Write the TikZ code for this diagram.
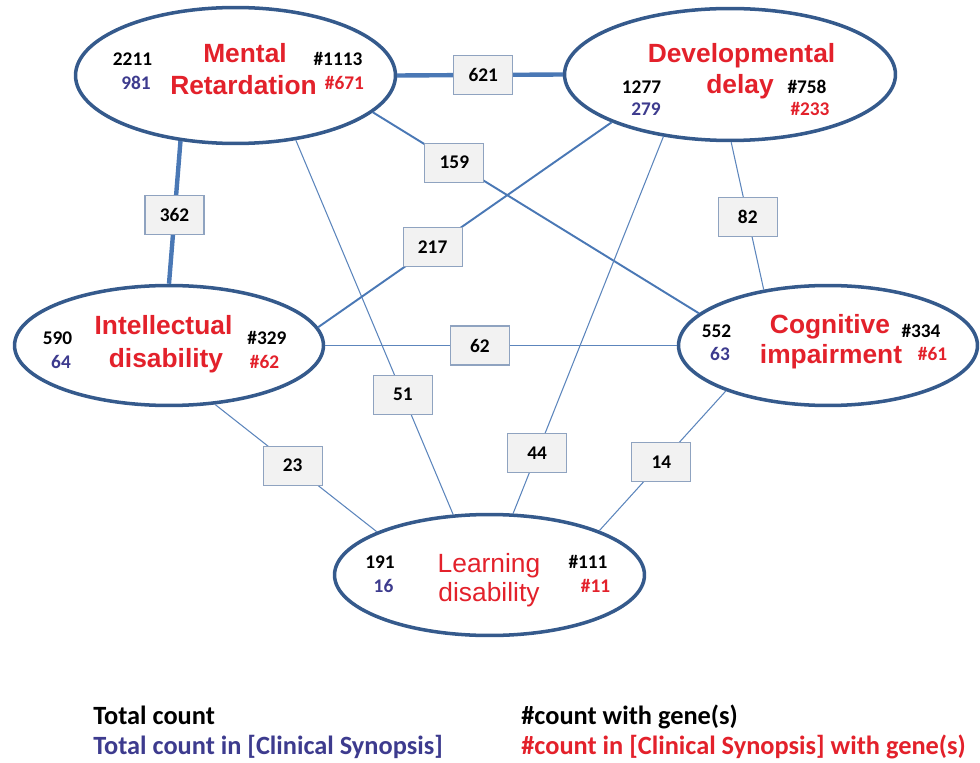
\documentclass[tikz,border=0pt]{standalone}
\usepackage{fontspec}
\setmainfont{Liberation Sans}
\newfontfamily\calibfont{Carlito}
\usepackage{tikz}
\usetikzlibrary{shapes.geometric}
\usepackage{xcolor}
\definecolor{ovalblue}{HTML}{355A8C}
\definecolor{linkblue}{HTML}{4A78B5}
\definecolor{boxedge}{HTML}{8FA3C0}
\definecolor{boxfill}{HTML}{F2F2F2}
\definecolor{namered}{HTML}{E3212B}
\definecolor{synblue}{HTML}{3D3B8E}

\begin{document}
\begin{tikzpicture}[
  x=0.02cm, y=-0.02cm,
  disease/.style={ellipse, draw=ovalblue, line width=2pt, fill=white, inner sep=0pt},
  term/.style={font=\fontsize{15}{18}\selectfont\bfseries, text=namered, anchor=base, inner sep=0pt},
  plainterm/.style={font=\fontsize{15}{18}\selectfont, text=namered, anchor=base, inner sep=0pt},
  totalnum/.style={font=\calibfont\fontsize{11}{13}\selectfont\bfseries, inner sep=0pt},
  synnum/.style={totalnum, text=synblue},
  genenum/.style={totalnum},
  syngenenum/.style={totalnum, text=namered},
  linkbox/.style={draw=boxedge, fill=boxfill, line width=0.6pt, minimum width=1.18cm, minimum height=0.78cm, inner sep=0pt, font=\calibfont\fontsize{11}{13}\selectfont\bfseries},
  heavylink/.style={draw=linkblue, line width=2.5pt},
  midlink/.style={draw=linkblue, line width=1.1pt},
  thinlink/.style={draw=linkblue!90, line width=0.6pt},
  legendtext/.style={font=\calibfont\fontsize{15}{18}\selectfont\bfseries, anchor=base west, inner sep=0pt}
]
\useasboundingbox (0,0) rectangle (980,763);

% the five phenotype terms
\node[disease, minimum width=6.40cm, minimum height=2.72cm] (mr) at (235.5,75.5) {};
\node[disease, minimum width=6.62cm, minimum height=2.64cm] (dd) at (730,74.5) {};
\node[disease, minimum width=6.18cm, minimum height=2.40cm] (idis) at (169,345.5) {};
\node[disease, minimum width=5.98cm, minimum height=2.40cm] (ci) at (828,345.5) {};
\node[disease, minimum width=6.20cm, minimum height=2.42cm] (ld) at (489.5,575) {};

% shared counts between terms
\draw[heavylink] (mr.east) -- node[linkbox, pos=.52]{621} (dd.west);
\draw[heavylink] (mr.230) -- node[linkbox, pos=.52]{362} (idis.north);
\draw[midlink] (mr.345) -- node[linkbox, pos=.25]{159} (ci.166);
\draw[thinlink] (mr.313) -- node[linkbox, pos=.68]{51} (ld.121);
\draw[midlink] (dd.202) -- node[linkbox, pos=.61]{217} (idis.7);
\draw[thinlink] (dd.271) -- node[linkbox, pos=.51]{82} (ci.139);
\draw[thinlink] (dd.223) -- node[linkbox, pos=.84]{44} (ld.69);
\draw[thinlink] (idis.east) -- node[linkbox, pos=.44]{62} (ci.west);
\draw[thinlink] (idis.308) -- node[linkbox, pos=.48]{23} (ld.159);
\draw[thinlink] (ci.204) -- node[linkbox, pos=.51]{14} (ld.22);

% Mental Retardation
\node[term] (mrA) at (245,63) {Mental};
\node[term] (mrB) at (243.5,95) {Retardation};
\node[totalnum] (mrT) at (132.5,59) {2211};
\node[synnum] (mrS) at (136,83) {981};
\node[genenum] (mrG) at (338,59) {\#1113};
\node[syngenenum] (mrSG) at (344.5,83) {\#671};

% Developmental delay
\node[term] (ddA) at (741.5,63) {Developmental};
\node[term] (ddB) at (740,94) {delay};
\node[totalnum] (ddT) at (641.5,87) {1277};
\node[synnum] (ddS) at (646,109) {279};
\node[genenum] (ddG) at (807,87) {\#758};
\node[syngenenum] (ddSG) at (810,109) {\#233};

% Intellectual disability
\node[term] (idA) at (163.5,335) {Intellectual};
\node[term] (idB) at (166,367) {disability};
\node[totalnum] (idT) at (57.5,338) {590};
\node[synnum] (idS) at (61,362) {64};
\node[genenum] (idG) at (267,338) {\#329};
\node[syngenenum] (idSG) at (264.5,362) {\#62};

% Cognitive impairment
\node[term] (ciA) at (830,334) {Cognitive};
\node[term] (ciB) at (831,363) {impairment};
\node[totalnum] (ciT) at (716.5,331) {552};
\node[synnum] (ciS) at (720,354) {63};
\node[genenum] (ciG) at (921,331) {\#334};
\node[syngenenum] (ciSG) at (932.5,354) {\#61};

% Learning disability
\node[plainterm] (ldA) at (489,572) {Learning};
\node[plainterm] (ldB) at (489,601) {disability};
\node[totalnum] (ldT) at (380,562) {191};
\node[synnum] (ldS) at (383.5,586) {16};
\node[genenum] (ldG) at (588,562) {\#111};
\node[syngenenum] (ldSG) at (595.5,586) {\#11};

% legend
\node[legendtext] (legT) at (93,724) {Total count};
\node[legendtext, text=synblue] (legS) at (93,754) {Total count in [Clinical Synopsis]};
\node[legendtext] (legG) at (521,724) {\#count with gene(s)};
\node[legendtext, text=namered] (legSG) at (521,754) {\#count in [Clinical Synopsis] with gene(s)};

\end{tikzpicture}
\end{document}
